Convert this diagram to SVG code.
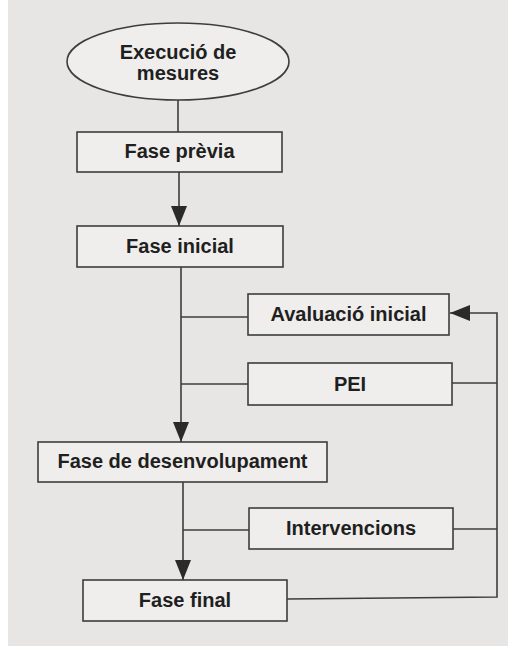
<svg xmlns="http://www.w3.org/2000/svg" width="515" height="651" viewBox="0 0 515 651">
  <style>
    .node rect, .node ellipse { fill: #efeeec; stroke: #3d3d3d; stroke-width: 1.6; }
    .node text { font-family: "Liberation Sans", Arial, sans-serif; font-weight: bold; font-size: 20px; fill: #1f1f1f; text-anchor: middle; }
    .conn path { fill: none; stroke: #3d3d3d; stroke-width: 1.6; }
  </style>
  <defs>
    <marker id="arr" viewBox="0 0 20 16" refX="20" refY="8" markerWidth="20" markerHeight="16" markerUnits="userSpaceOnUse" orient="auto">
      <path d="M0,0 L20,8 L0,16 z" fill="#2a2a2a"/>
    </marker>
  </defs>
  <rect x="0" y="0" width="515" height="651" fill="#ffffff"/>
  <rect x="8" y="0" width="500" height="646" fill="#e7e6e4"/>

  <g class="conn">
    <path d="M178,100 L178,132"/>
    <path d="M179,172 L179,226" marker-end="url(#arr)"/>
    <path d="M181,267 L181,442" marker-end="url(#arr)"/>
    <path d="M181,317 L248,317"/>
    <path d="M181,384 L248,384"/>
    <path d="M452,383 L497,383"/>
    <path d="M183,482 L183,580" marker-end="url(#arr)"/>
    <path d="M183,530 L249,530"/>
    <path d="M453,529 L497,529"/>
    <path d="M287,599 L497,597 L497,313 L450,313" marker-end="url(#arr)"/>
  </g>

  <g id="n-execucio" class="node">
    <ellipse cx="178" cy="61.5" rx="111" ry="38.5"/>
    <text x="178" y="59">Execució de</text>
    <text x="178" y="80">mesures</text>
  </g>
  <g id="n-previa" class="node">
    <rect x="77" y="132" width="205" height="40"/>
    <text x="179.5" y="158">Fase prèvia</text>
  </g>
  <g id="n-inicial" class="node">
    <rect x="77" y="226" width="206" height="41"/>
    <text x="180" y="253">Fase inicial</text>
  </g>
  <g id="n-avaluacio" class="node">
    <rect x="248" y="294" width="201" height="41"/>
    <text x="348.5" y="321">Avaluació inicial</text>
  </g>
  <g id="n-pei" class="node">
    <rect x="248" y="363" width="204" height="42"/>
    <text x="350" y="391">PEI</text>
  </g>
  <g id="n-desenvolupament" class="node">
    <rect x="38" y="442" width="289" height="40"/>
    <text x="182.5" y="468">Fase de desenvolupament</text>
  </g>
  <g id="n-intervencions" class="node">
    <rect x="249" y="508" width="204" height="41"/>
    <text x="351" y="535">Intervencions</text>
  </g>
  <g id="n-final" class="node">
    <rect x="83" y="580" width="204" height="41"/>
    <text x="185" y="607">Fase final</text>
  </g>
</svg>
